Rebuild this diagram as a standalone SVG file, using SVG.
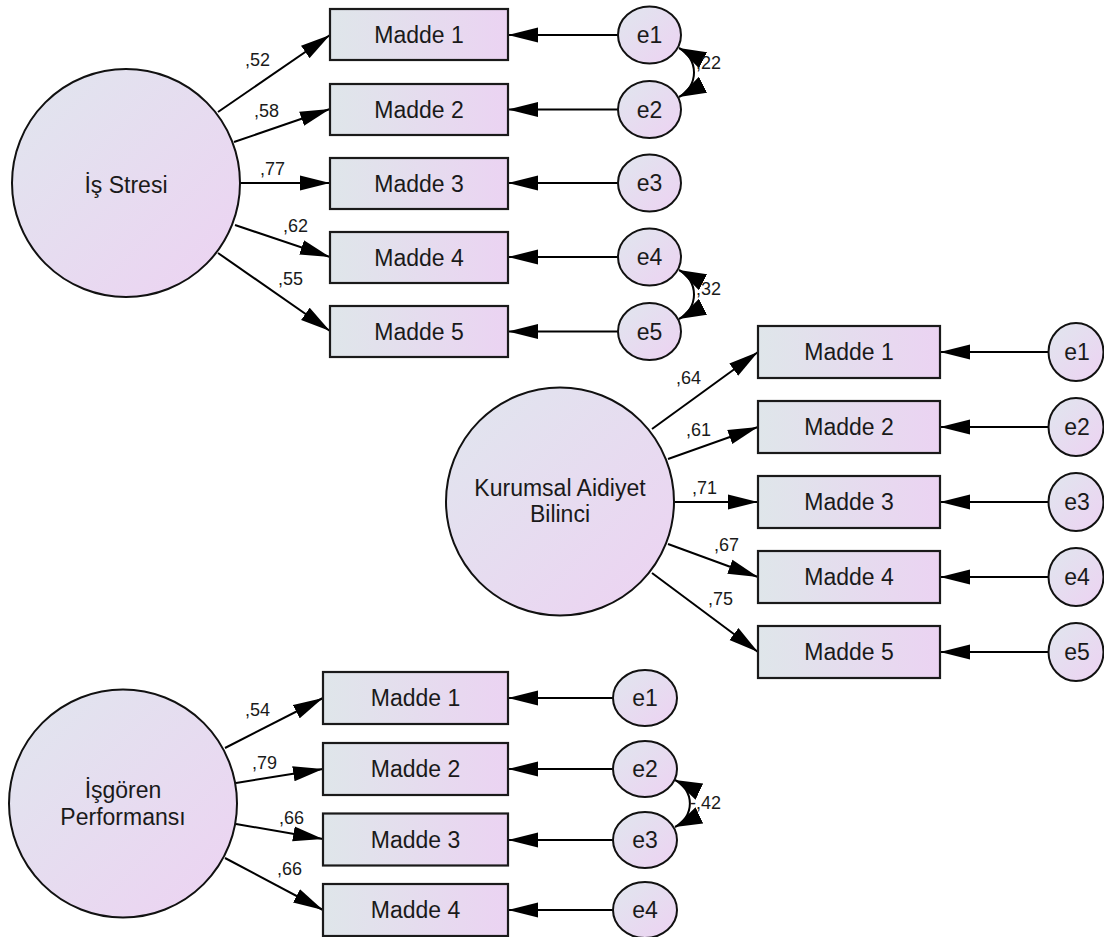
<svg xmlns="http://www.w3.org/2000/svg" width="1104" height="937" viewBox="0 0 1104 937">
<defs>
<linearGradient id="gBox" x1="0" y1="0" x2="1" y2="0"><stop offset="0" stop-color="#dfe6ea"/><stop offset="1" stop-color="#ebd3f2"/></linearGradient>
<linearGradient id="gCirc" x1="0" y1="0" x2="1" y2="1"><stop offset="0" stop-color="#e0e6ee"/><stop offset="1" stop-color="#edd2f2"/></linearGradient>
<marker id="ah" markerUnits="userSpaceOnUse" markerWidth="30" markerHeight="16" refX="30" refY="8" orient="auto"><path d="M0,0.5 L30,8 L0,15.5 z" fill="#000"/></marker>
<marker id="ahc" markerUnits="userSpaceOnUse" markerWidth="27" markerHeight="18" refX="27" refY="9" orient="auto-start-reverse"><path d="M0,0 L27,9 L0,18 z" fill="#000"/></marker>
<style>
.box{fill:url(#gBox);stroke:#1a1a1a;stroke-width:2.2}
.lat{fill:url(#gCirc);stroke:#111;stroke-width:2}
.err{fill:url(#gCirc);stroke:#111;stroke-width:2}
.t{font-family:"Liberation Sans",Arial,sans-serif;font-size:23px;fill:#1a1a1a;text-anchor:middle}
.lbl{font-family:"Liberation Sans",Arial,sans-serif;font-size:18px;fill:#1a1a1a}
.ln{stroke:#000;stroke-width:2;fill:none;marker-end:url(#ah)}
.cov{stroke:#000;stroke-width:2;fill:none;marker-start:url(#ahc);marker-end:url(#ahc)}
</style>
</defs>

<g id="connectors">
<!-- group 1 loadings -->
<line class="ln" x1="218" y1="112" x2="330" y2="35"/>
<line class="ln" x1="234" y1="142" x2="330" y2="109"/>
<line class="ln" x1="240" y1="183" x2="330" y2="183"/>
<line class="ln" x1="235" y1="225" x2="330" y2="257"/>
<line class="ln" x1="218" y1="253" x2="330" y2="331"/>
<!-- group 1 errors -->
<line class="ln" x1="618" y1="35" x2="508" y2="35"/>
<line class="ln" x1="618" y1="109.5" x2="508" y2="109.5"/>
<line class="ln" x1="618" y1="183" x2="508" y2="183"/>
<line class="ln" x1="618" y1="257" x2="508" y2="257"/>
<line class="ln" x1="618" y1="331.5" x2="508" y2="331.5"/>
<path class="cov" d="M679,48 A27.5,27.5 0 0 1 679,97"/>
<path class="cov" d="M679,270 A27.5,27.5 0 0 1 679,319"/>
<!-- group 2 loadings -->
<line class="ln" x1="652" y1="429" x2="758" y2="352"/>
<line class="ln" x1="668" y1="459" x2="758" y2="427"/>
<line class="ln" x1="674" y1="502" x2="758" y2="502"/>
<line class="ln" x1="668" y1="544" x2="758" y2="577"/>
<line class="ln" x1="652" y1="573" x2="758" y2="652"/>
<!-- group 2 errors -->
<line class="ln" x1="1048.5" y1="352" x2="940" y2="352"/>
<line class="ln" x1="1048.5" y1="427" x2="940" y2="427"/>
<line class="ln" x1="1048.5" y1="502" x2="940" y2="502"/>
<line class="ln" x1="1048.5" y1="577" x2="940" y2="577"/>
<line class="ln" x1="1048.5" y1="652" x2="940" y2="652"/>
<!-- group 3 loadings -->
<line class="ln" x1="225" y1="748" x2="323" y2="698"/>
<line class="ln" x1="236" y1="783" x2="323" y2="769"/>
<line class="ln" x1="236" y1="824" x2="323" y2="839"/>
<line class="ln" x1="225" y1="858" x2="323" y2="910"/>
<!-- group 3 errors -->
<line class="ln" x1="613" y1="698" x2="508" y2="698"/>
<line class="ln" x1="613" y1="769" x2="508" y2="769"/>
<line class="ln" x1="613" y1="840" x2="508" y2="840"/>
<line class="ln" x1="613" y1="910" x2="508" y2="910"/>
<path class="cov" d="M675,780 A26,26 0 0 1 675,827"/>

<!-- labels -->
<text class="lbl" x="245" y="66">,52</text>
<text class="lbl" x="254" y="117">,58</text>
<text class="lbl" x="260" y="175">,77</text>
<text class="lbl" x="283" y="232">,62</text>
<text class="lbl" x="278" y="285">,55</text>
<text class="lbl" x="696" y="69">,22</text>
<text class="lbl" x="696" y="295">,32</text>
<text class="lbl" x="676" y="384">,64</text>
<text class="lbl" x="686" y="436">,61</text>
<text class="lbl" x="692" y="494">,71</text>
<text class="lbl" x="714" y="551">,67</text>
<text class="lbl" x="708" y="605">,75</text>
<text class="lbl" x="245" y="716">,54</text>
<text class="lbl" x="252" y="769">,79</text>
<text class="lbl" x="279" y="824">,66</text>
<text class="lbl" x="277" y="875">,66</text>
<text class="lbl" x="690" y="809">-,42</text>
</g>

<!-- Group 1 -->
<g id="is-stresi"><circle class="lat" cx="126" cy="183" r="114"/><text class="t" x="126" y="193">İş Stresi</text></g>
<g id="g1-m1"><rect class="box" x="330" y="9" width="178" height="51"/><text class="t" x="419" y="43">Madde 1</text></g>
<g id="g1-m2"><rect class="box" x="330" y="84" width="178" height="51"/><text class="t" x="419" y="118">Madde 2</text></g>
<g id="g1-m3"><rect class="box" x="330" y="158" width="178" height="51"/><text class="t" x="419" y="192">Madde 3</text></g>
<g id="g1-m4"><rect class="box" x="330" y="232" width="178" height="51"/><text class="t" x="419" y="266">Madde 4</text></g>
<g id="g1-m5"><rect class="box" x="330" y="306" width="178" height="51"/><text class="t" x="419" y="340">Madde 5</text></g>
<g id="g1-e1"><ellipse class="err" cx="649.5" cy="35" rx="31.5" ry="28.5"/><text class="t" x="649.5" y="43">e1</text></g>
<g id="g1-e2"><ellipse class="err" cx="649.5" cy="109.5" rx="31.5" ry="28.5"/><text class="t" x="649.5" y="117.5">e2</text></g>
<g id="g1-e3"><ellipse class="err" cx="649.5" cy="183" rx="31.5" ry="28.5"/><text class="t" x="649.5" y="191">e3</text></g>
<g id="g1-e4"><ellipse class="err" cx="649.5" cy="257" rx="31.5" ry="28.5"/><text class="t" x="649.5" y="265">e4</text></g>
<g id="g1-e5"><ellipse class="err" cx="649.5" cy="331.5" rx="31.5" ry="28.5"/><text class="t" x="649.5" y="339.5">e5</text></g>

<!-- Group 2 -->
<g id="kurumsal"><circle class="lat" cx="560" cy="501.5" r="114"/><text class="t" x="560" y="496">Kurumsal Aidiyet</text><text class="t" x="560" y="522">Bilinci</text></g>
<g id="g2-m1"><rect class="box" x="758" y="326" width="182" height="52"/><text class="t" x="849" y="360">Madde 1</text></g>
<g id="g2-m2"><rect class="box" x="758" y="401" width="182" height="52"/><text class="t" x="849" y="435">Madde 2</text></g>
<g id="g2-m3"><rect class="box" x="758" y="476" width="182" height="52"/><text class="t" x="849" y="510">Madde 3</text></g>
<g id="g2-m4"><rect class="box" x="758" y="551" width="182" height="52"/><text class="t" x="849" y="585">Madde 4</text></g>
<g id="g2-m5"><rect class="box" x="758" y="626" width="182" height="52"/><text class="t" x="849" y="660">Madde 5</text></g>
<g id="g2-e1"><ellipse class="err" cx="1076" cy="352" rx="27.5" ry="29"/><text class="t" x="1077" y="360">e1</text></g>
<g id="g2-e2"><ellipse class="err" cx="1076" cy="427" rx="27.5" ry="29"/><text class="t" x="1077" y="435">e2</text></g>
<g id="g2-e3"><ellipse class="err" cx="1076" cy="502" rx="27.5" ry="29"/><text class="t" x="1077" y="510">e3</text></g>
<g id="g2-e4"><ellipse class="err" cx="1076" cy="577" rx="27.5" ry="29"/><text class="t" x="1077" y="585">e4</text></g>
<g id="g2-e5"><ellipse class="err" cx="1076" cy="652" rx="27.5" ry="29"/><text class="t" x="1077" y="660">e5</text></g>

<!-- Group 3 -->
<g id="isgoren"><circle class="lat" cx="123" cy="803.5" r="114"/><text class="t" x="123" y="798">İşgören</text><text class="t" x="123" y="825">Performansı</text></g>
<g id="g3-m1"><rect class="box" x="323" y="672" width="185" height="52"/><text class="t" x="415.5" y="706">Madde 1</text></g>
<g id="g3-m2"><rect class="box" x="323" y="743" width="185" height="52"/><text class="t" x="415.5" y="777">Madde 2</text></g>
<g id="g3-m3"><rect class="box" x="323" y="813.5" width="185" height="52"/><text class="t" x="415.5" y="847.5">Madde 3</text></g>
<g id="g3-m4"><rect class="box" x="323" y="884" width="185" height="52"/><text class="t" x="415.5" y="918">Madde 4</text></g>
<g id="g3-e1"><ellipse class="err" cx="645" cy="698" rx="32" ry="28"/><text class="t" x="645" y="706">e1</text></g>
<g id="g3-e2"><ellipse class="err" cx="645" cy="769" rx="32" ry="28"/><text class="t" x="645" y="777">e2</text></g>
<g id="g3-e3"><ellipse class="err" cx="645" cy="840" rx="32" ry="28"/><text class="t" x="645" y="848">e3</text></g>
<g id="g3-e4"><ellipse class="err" cx="645" cy="910" rx="32" ry="28"/><text class="t" x="645" y="918">e4</text></g>
</svg>
